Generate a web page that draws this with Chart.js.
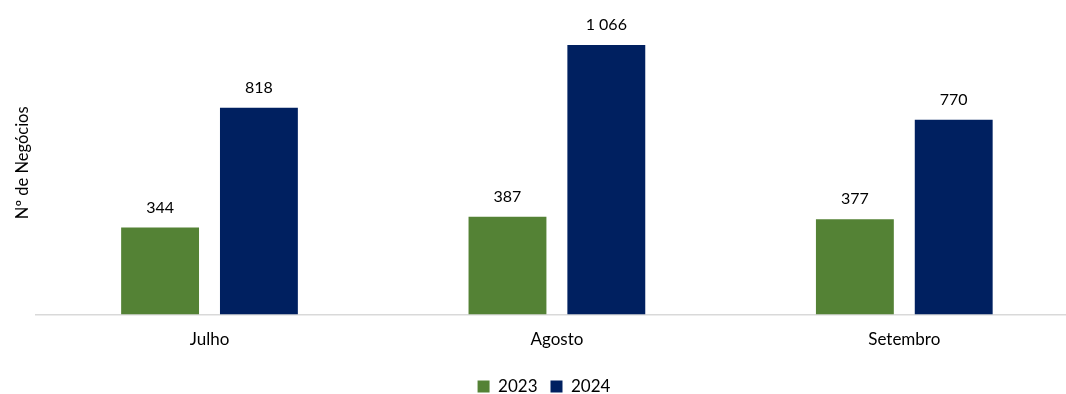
<!DOCTYPE html>
<html>
<head>
<meta charset="utf-8">
<script src="https://cdn.jsdelivr.net/npm/chart.js@4"></script>
<style>
  html, body { margin: 0; padding: 0; background: #fff; }
  #wrap { width: 1066px; height: 394px; overflow: hidden; }
</style>
</head>
<body>
<div id="wrap"><canvas id="chart" width="1080" height="394"></canvas></div>
<script>
const months = ["Julho", "Agosto", "Setembro"];
const values2023 = [344, 387, 377];
const values2024 = [818, 1066, 770];
const seriesLabels = ["2023", "2024"];

const FONT = "Lato, 'Open Sans', sans-serif";
Chart.defaults.font.family = FONT;
Chart.defaults.color = "#000";

const fmt = v => String(v).replace(/\B(?=(\d{3})+(?!\d))/g, " ");

const valueLabels = {
  id: "valueLabels",
  afterDatasetsDraw(chart) {
    const ctx = chart.ctx;
    ctx.save();
    ctx.font = "16px " + FONT;
    ctx.fillStyle = "#000";
    ctx.textAlign = "center";
    ctx.textBaseline = "bottom";
    chart.data.datasets.forEach((ds, i) => {
      chart.getDatasetMeta(i).data.forEach((bar, j) => {
        ctx.fillText(fmt(ds.data[j]), bar.x, bar.y - 12);
      });
    });
    ctx.restore();
  }
};

new Chart(document.getElementById("chart"), {
  type: "bar",
  data: {
    labels: months,
    datasets: [
      { label: seriesLabels[0], data: values2023, backgroundColor: "#548235" },
      { label: seriesLabels[1], data: values2024, backgroundColor: "#002060" }
    ]
  },
  options: {
    responsive: false,
    animation: false,
    categoryPercentage: 0.569,
    barPercentage: 0.788,
    layout: { padding: { left: 10, right: 2, top: 11, bottom: -11 } },
    plugins: {
      legend: {
        position: "bottom",
        labels: { boxWidth: 12, boxHeight: 12, font: { size: 17 }, padding: 13 }
      },
      tooltip: { enabled: false }
    },
    scales: {
      x: {
        grid: { display: false, drawTicks: false },
        border: { color: "#d9d9d9", width: 1.5 },
        ticks: { font: { size: 17 }, padding: 15 }
      },
      y: {
        min: 0,
        max: 1200,
        grid: { display: false, drawTicks: false },
        border: { display: false },
        ticks: { display: false },
        title: { display: true, text: "Nº de Negócios", font: { size: 16.5 }, padding: 3 }
      }
    }
  },
  plugins: [valueLabels]
});
</script>
</body>
</html>
